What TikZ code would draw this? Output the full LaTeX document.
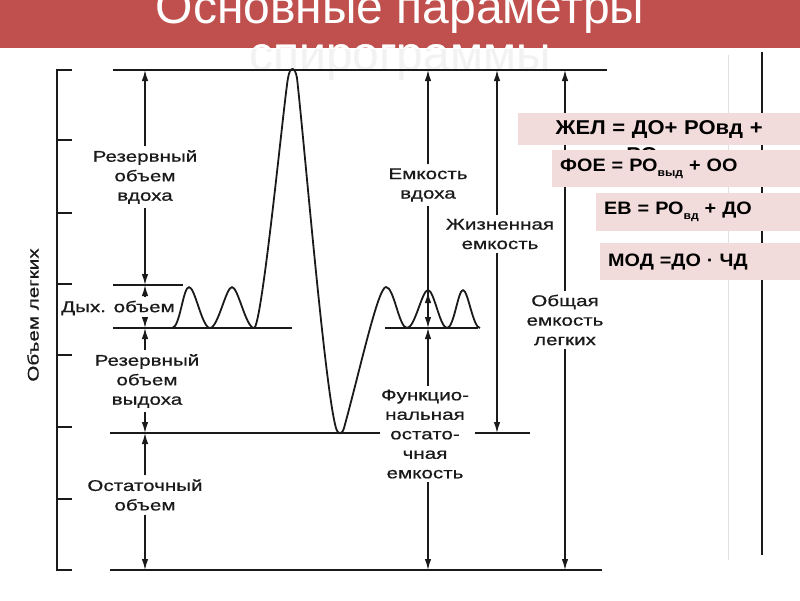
\documentclass[tikz,border=0pt]{standalone}
\usepackage{fontspec}
\setmainfont{Liberation Sans}
\newfontfamily\scanfont[FakeStretch=1.33,FakeBold=0.7]{Liberation Sans}
\newfontfamily\eqfont[FakeStretch=1.1]{Liberation Sans}
\usetikzlibrary{arrows.meta,positioning}
\definecolor{band}{HTML}{C0504D}
\definecolor{boxpink}{HTML}{F2DCDB}
\definecolor{ink}{HTML}{1A1A1A}

\begin{document}
\begin{tikzpicture}[x=1pt, y=-1pt, >={Latex[length=11pt,width=6.5pt]},
  lv/.style={draw=ink, line width=1.6pt},
  e/.style={->, draw=ink, fill=ink, line width=1.3pt},
  lb/.style={text=ink, font=\scanfont\fontsize{15.5}{19.5}\selectfont, align=center, inner sep=1pt, outer sep=3pt},
  eq/.style={fill=boxpink, font=\eqfont\bfseries\fontsize{18}{20}\selectfont, anchor=north west, inner xsep=8pt, inner ysep=0pt, align=left},
  ttl/.style={text=white, font=\fontsize{48}{48}\selectfont, anchor=base, inner sep=0pt}]
\clip (0,0) rectangle (800,600);
\fill[white] (0,0) rectangle (800,600);

\fill[band] (0,0) rectangle (800,48);
\node[ttl] (ttl1) at (400,23) {Основные параметры};
\node[ttl, text=black!5] (ttl2g) at (400,70) {спирограммы};
\begin{scope}
  \clip (0,0) rectangle (800,48);
  \node[ttl] (ttl2) at (400,70) {спирограммы};
\end{scope}

\coordinate (yTop) at (0,70);
\coordinate (yTid) at (0,285);
\coordinate (yTidR) at (0,292);
\coordinate (yBase) at (0,328);
\coordinate (yFRC) at (0,433);
\coordinate (yBot) at (0,570);
\coordinate (cL) at (145,0);
\coordinate (cIC) at (428,0);
\coordinate (cVC) at (497,0);
\coordinate (cTLC) at (565,0);

\draw[lv] (72,70) -- (57,70) -- (57,570) -- (72,570);
\foreach \t in {140,213,284,355,427,499}
  \draw[lv] (57,\t) -- (72,\t);
\draw[lv] (113,70) -- (607,70);
\draw[lv] (113,285) -- (183,285);
\draw[lv] (113,328) -- (292,328);
\draw[lv] (385,328) -- (478,328);
\draw[lv] (110,433) -- (380,433);
\draw[lv] (475,433) -- (530,433);
\draw[lv] (110,570) -- (602,570);

\draw[draw=ink, line width=1.8pt, line join=round] (172,328)
  .. controls (180,328) and (183,287) .. (189,287)
  .. controls (195,287) and (202,328) .. (210,328)
  .. controls (218,328) and (226,287) .. (232,287)
  .. controls (238,287) and (246,328) .. (254,328)
  .. controls (262,328) and (284,100) .. (288,78)
  .. controls (290,66) and (295,66) .. (297,78)
  .. controls (305,150) and (325,390) .. (336,428)
  .. controls (338,435) and (342,435) .. (344,428)
  .. controls (360,370) and (378,287) .. (386,287)
  .. controls (394,287) and (399,328) .. (407,328)
  .. controls (415,328) and (422,290) .. (428,290)
  .. controls (434,290) and (440,328) .. (447,328)
  .. controls (454,328) and (458,290) .. (463,290)
  .. controls (468,290) and (473,328) .. (480,328);

\node[lb, rotate=90] (ax) at (33,315) {Объем легких};
\node[lb] (irv) at (145,177) {Резервный\\объем\\вдоха};
\node[lb] (tv) at (118,308) {Дых. объем};
\node[lb] (erv) at (147,381) {Резервный\\объем\\выдоха};
\node[lb] (rv) at (145,495) {Остаточный\\объем};
\node[lb] (ic) at (428,185) {Емкость\\вдоха};
\node[lb] (frc) at (425,434) {Функцио-\\нальная\\остато-\\чная\\емкость};
\node[lb] (vc) at (500,234) {Жизненная\\емкость};
\node[lb] (tlc) at (565,320) {Общая\\емкость\\легких};
\coordinate (tvR) at (428,314);

\draw[e] (irv.north -| cL) -- (cL |- yTop);
\draw[e] (irv.south -| cL) -- (cL |- yTid);
\draw[e] (tv.north -| cL) -- (cL |- yTid);
\draw[e] (tv.south -| cL) -- (cL |- yBase);
\draw[e] (erv.north -| cL) -- (cL |- yBase);
\draw[e] (erv.south -| cL) -- (cL |- yFRC);
\draw[e] (rv.north -| cL) -- (cL |- yFRC);
\draw[e] (rv.south -| cL) -- (cL |- yBot);
\draw[e] (ic.north -| cIC) -- (cIC |- yTop);
\draw[e] (ic.south -| cIC) -- (cIC |- yBase);
\draw[e] (tvR) -- (cIC |- yTidR);
\draw[e] (frc.north -| cIC) -- (cIC |- yBase);
\draw[e] (frc.south -| cIC) -- (cIC |- yBot);
\draw[e] (vc.north -| cVC) -- (cVC |- yTop);
\draw[e] (vc.south -| cVC) -- (cVC |- yFRC);
\draw[e] (tlc.north -| cTLC) -- (cTLC |- yTop);
\draw[e] (tlc.south -| cTLC) -- (cTLC |- yBot);

\draw[black!12, line width=1pt] (728,55) -- (728,560);
\draw[draw=ink, line width=1.6pt] (762,52) -- (762,555);

\node[eq, text width=266pt, minimum height=32pt, align=center, font=\eqfont\bfseries\fontsize{20}{22}\selectfont] (zhel) at (518,113) {ЖЕЛ = ДО+ РОвд +};
\node[font=\eqfont\bfseries\fontsize{20}{22}\selectfont, inner sep=0pt] (zhel2) at (642,155) {РО};
\node[eq, text width=232pt, minimum height=37pt] (foe) at (552,150) {ФОЕ = РО\raisebox{-5pt}{\fontsize{11}{11}\selectfont выд} + ОО};
\node[eq, text width=188pt, minimum height=38pt] (ev) at (596,193) {ЕВ = РО\raisebox{-5pt}{\fontsize{11}{11}\selectfont вд} + ДО};
\node[eq, text width=184pt, minimum height=37pt] (mod) at (600,243) {МОД =ДО · ЧД};
\end{tikzpicture}
\end{document}
